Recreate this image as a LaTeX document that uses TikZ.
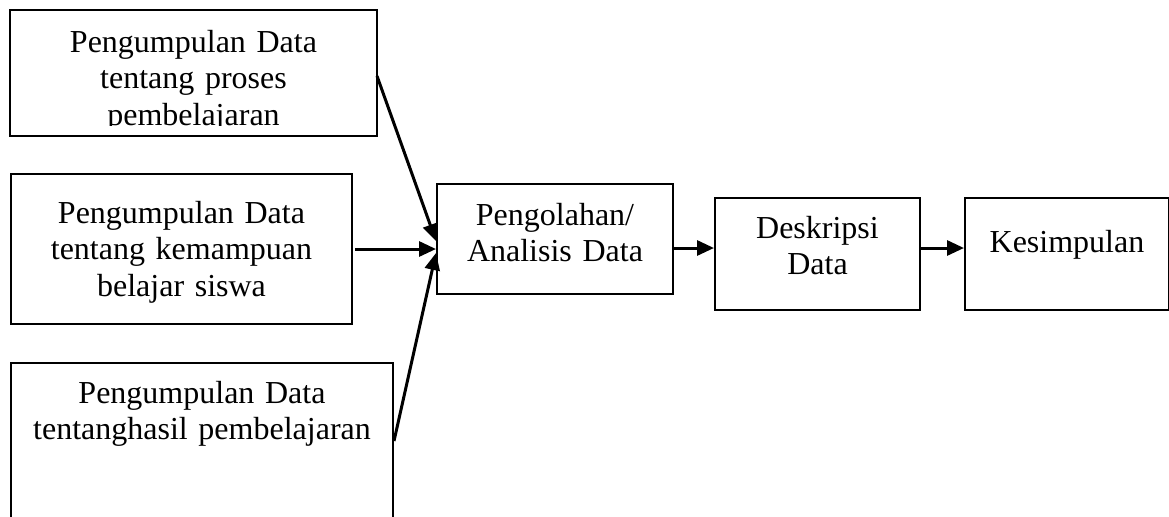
\documentclass[tikz,border=0pt]{standalone}
\usepackage{fontspec}
\setmainfont{Liberation Serif}
\usetikzlibrary{arrows.meta}
\tikzset{
  kotak/.style={draw, line width=1pt, inner sep=0pt, align=center, anchor=north west, font=\fontsize{16}{18.3}\selectfont},
  garis/.style={line width=1pt},
  panah/.style={line width=1.5pt, -{Triangle[length=8.5pt,width=7.5pt]}},
}
\begin{document}
\begin{tikzpicture}[x=0.5pt, y=-0.5pt]
	\clip (0,0) rectangle (1169,516);
	
	% pengumpulan data
	\begin{scope}
		\clip (0,0) rectangle (1169,125);
		\node[kotak, draw=none, text width=182.5pt, text height=20.5pt, text depth=41.5pt] (b1) at (10,10) {Pengumpulan Data\\tentang proses\\pembelajaran};
	\end{scope}
	\draw[garis] (b1.north west) rectangle (b1.south east);
	\node[kotak, text width=170.5pt, text height=24.5pt, text depth=50.5pt] (b2) at (10,173) {Pengumpulan Data\\tentang kemampuan\\belajar siswa};
	\node[kotak, text width=191pt, text height=20pt, text depth=69pt] (b3) at (10,362) {Pengumpulan Data\\tentanghasil pembelajaran};
	
	% olah data
	\node[kotak, text width=118pt, text height=20.5pt, text depth=34.5pt] (b4) at (436,183) {Pengolahan/\\Analisis Data};
	\node[kotak, text width=102.5pt, text height=20pt, text depth=36pt] (b5) at (714,197) {Deskripsi\\Data};
	\node[kotak, text width=102pt, text height=27pt, text depth=29pt] (b6) at (964,197) {Kesimpulan};
	
	\draw[panah] ([yshift=-1.5pt]b1.east) -- ([yshift=-1pt]b4.west);
	\draw[panah] ([xshift=1pt]b2.east) -- (b2.east -| b4.west);
	\draw[panah] ([yshift=5.5pt]b3.east) -- ([yshift=-7pt]b4.west);
	
	\draw[panah] ([yshift=-4.5pt]b4.east) -- ([yshift=-4.5pt]b4.east -| b5.west);
	\draw[panah] ([yshift=3pt]b5.east) -- ([yshift=3pt]b5.east -| b6.west);
	
\end{tikzpicture}
\end{document}
